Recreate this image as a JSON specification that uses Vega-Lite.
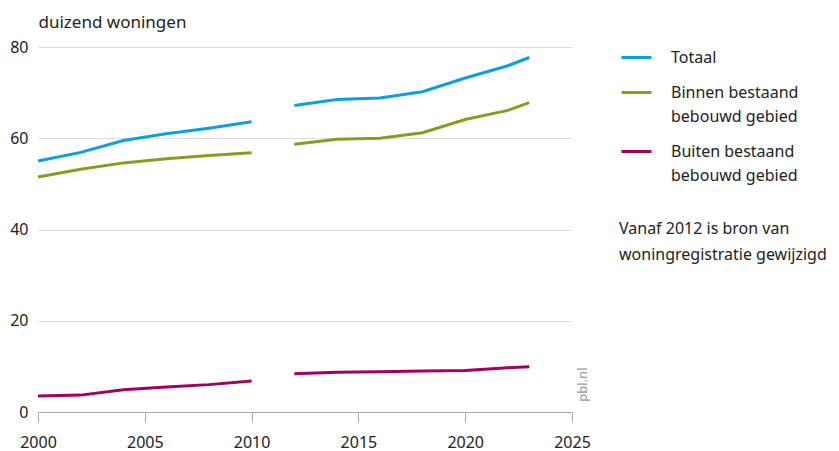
{
  "$schema": "https://vega.github.io/schema/vega-lite/v6.json",
  "width": 534,
  "height": 365,
  "autosize": "none",
  "padding": {"left": 38, "top": 47, "right": 267, "bottom": 39},
  "background": "white",
  "config": {
    "font": "Noto Sans",
    "view": {"stroke": null},
    "text": {"font": "Noto Sans"}
  },
  "datasets": {
    "series": [
      {"year": 2000, "value": 55.0, "series": "Totaal", "period": "a"},
      {"year": 2002, "value": 56.9, "series": "Totaal", "period": "a"},
      {"year": 2004, "value": 59.5, "series": "Totaal", "period": "a"},
      {"year": 2006, "value": 61.0, "series": "Totaal", "period": "a"},
      {"year": 2008, "value": 62.2, "series": "Totaal", "period": "a"},
      {"year": 2010, "value": 63.6, "series": "Totaal", "period": "a"},
      {"year": 2012, "value": 67.2, "series": "Totaal", "period": "b"},
      {"year": 2014, "value": 68.5, "series": "Totaal", "period": "b"},
      {"year": 2016, "value": 68.8, "series": "Totaal", "period": "b"},
      {"year": 2018, "value": 70.2, "series": "Totaal", "period": "b"},
      {"year": 2020, "value": 73.2, "series": "Totaal", "period": "b"},
      {"year": 2022, "value": 75.9, "series": "Totaal", "period": "b"},
      {"year": 2023, "value": 77.7, "series": "Totaal", "period": "b"},
      {"year": 2000, "value": 51.5, "series": "Binnen bestaand bebouwd gebied", "period": "a"},
      {"year": 2002, "value": 53.2, "series": "Binnen bestaand bebouwd gebied", "period": "a"},
      {"year": 2004, "value": 54.6, "series": "Binnen bestaand bebouwd gebied", "period": "a"},
      {"year": 2006, "value": 55.5, "series": "Binnen bestaand bebouwd gebied", "period": "a"},
      {"year": 2008, "value": 56.2, "series": "Binnen bestaand bebouwd gebied", "period": "a"},
      {"year": 2010, "value": 56.8, "series": "Binnen bestaand bebouwd gebied", "period": "a"},
      {"year": 2012, "value": 58.7, "series": "Binnen bestaand bebouwd gebied", "period": "b"},
      {"year": 2014, "value": 59.8, "series": "Binnen bestaand bebouwd gebied", "period": "b"},
      {"year": 2016, "value": 60.0, "series": "Binnen bestaand bebouwd gebied", "period": "b"},
      {"year": 2018, "value": 61.2, "series": "Binnen bestaand bebouwd gebied", "period": "b"},
      {"year": 2020, "value": 64.1, "series": "Binnen bestaand bebouwd gebied", "period": "b"},
      {"year": 2022, "value": 66.1, "series": "Binnen bestaand bebouwd gebied", "period": "b"},
      {"year": 2023, "value": 67.8, "series": "Binnen bestaand bebouwd gebied", "period": "b"},
      {"year": 2000, "value": 3.5, "series": "Buiten bestaand bebouwd gebied", "period": "a"},
      {"year": 2002, "value": 3.7, "series": "Buiten bestaand bebouwd gebied", "period": "a"},
      {"year": 2004, "value": 4.9, "series": "Buiten bestaand bebouwd gebied", "period": "a"},
      {"year": 2006, "value": 5.5, "series": "Buiten bestaand bebouwd gebied", "period": "a"},
      {"year": 2008, "value": 6.0, "series": "Buiten bestaand bebouwd gebied", "period": "a"},
      {"year": 2010, "value": 6.8, "series": "Buiten bestaand bebouwd gebied", "period": "a"},
      {"year": 2012, "value": 8.4, "series": "Buiten bestaand bebouwd gebied", "period": "b"},
      {"year": 2014, "value": 8.7, "series": "Buiten bestaand bebouwd gebied", "period": "b"},
      {"year": 2016, "value": 8.8, "series": "Buiten bestaand bebouwd gebied", "period": "b"},
      {"year": 2018, "value": 9.0, "series": "Buiten bestaand bebouwd gebied", "period": "b"},
      {"year": 2020, "value": 9.1, "series": "Buiten bestaand bebouwd gebied", "period": "b"},
      {"year": 2022, "value": 9.7, "series": "Buiten bestaand bebouwd gebied", "period": "b"},
      {"year": 2023, "value": 9.9, "series": "Buiten bestaand bebouwd gebied", "period": "b"}
    ],
    "note": [{"text": "Vanaf 2012 is bron van|woningregistratie gewijzigd"}],
    "source": [{"text": "pbl.nl"}]
  },
  "layer": [
    {
      "data": {"name": "series"},
      "mark": {"type": "line", "strokeWidth": 3, "strokeCap": "butt"},
      "encoding": {
        "x": {
          "field": "year", "type": "quantitative",
          "scale": {"domain": [2000, 2025], "nice": false, "zero": false},
          "axis": {
            "title": null, "values": [2000, 2005, 2010, 2015, 2020, 2025], "format": "d",
            "grid": false, "domainColor": "#aaaaaa", "tickColor": "#aaaaaa", "tickSize": 10,
            "labelFontSize": 16, "labelColor": "#222222", "labelPadding": 12, "labelFlush": false
          }
        },
        "y": {
          "field": "value", "type": "quantitative",
          "scale": {"domain": [0, 80], "nice": false},
          "axis": {
            "title": "duizend woningen", "titleAngle": 0, "titleX": 0, "titleY": -20,
            "titleAlign": "left", "titleBaseline": "alphabetic", "titleFontSize": 17,
            "titleFontWeight": "normal", "titleColor": "#222222",
            "values": [0, 20, 40, 60, 80], "domain": false, "ticks": false,
            "labelFontSize": 16, "labelColor": "#222222", "labelPadding": 10,
            "gridColor": "#dddddd", "gridWidth": 1
          }
        },
        "color": {
          "field": "series", "type": "nominal",
          "scale": {
            "domain": ["Totaal", "Binnen bestaand bebouwd gebied", "Buiten bestaand bebouwd gebied"],
            "range": ["#0aa0dc", "#8c9a1e", "#a0005f"]
          },
          "legend": {
            "orient": "none", "legendX": 582, "legendY": -6, "title": null,
            "symbolType": "stroke", "symbolSize": 900, "symbolStrokeWidth": 3,
            "labelFontSize": 16, "labelColor": "#222222", "labelOffset": 18,
            "labelExpr": "datum.label == 'Totaal' ? 'Totaal' : [slice(datum.label, 0, indexof(datum.label, ' bebouwd')), 'bebouwd gebied']",
            "labelBaseline": "middle", "rowPadding": 10, "labelLimit": 300,
            "encode": {"labels": {"update": {"lineHeight": {"value": 24}}}}
          }
        },
        "detail": {"field": "period"}
      }
    },
    {
      "data": {"name": "note"},
      "mark": {"type": "text", "align": "left", "baseline": "alphabetic", "fontSize": 16, "color": "#222222", "lineHeight": 26, "clip": false},
      "encoding": {
        "x": {"datum": 2027.2},
        "y": {"datum": 39},
        "text": {"field": "text"}
      },
      "transform": [{"calculate": "split(datum.text, '|')", "as": "text"}]
    },
    {
      "data": {"name": "source"},
      "mark": {"type": "text", "align": "center", "baseline": "middle", "fontSize": 13, "color": "#9a9a9a", "angle": 270},
      "encoding": {
        "x": {"datum": 2025.5},
        "y": {"datum": 6},
        "text": {"field": "text"}
      }
    }
  ]
}
